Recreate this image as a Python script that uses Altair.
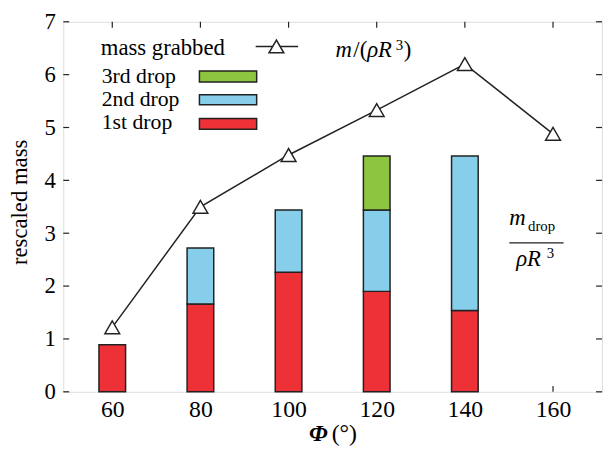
import altair as alt
import pandas as pd

# ---- data ----
phi_bars = [60, 80, 100, 120, 140]
drop1 = [0.89, 1.66, 2.26, 1.90, 1.54]
drop2 = [0.0, 1.06, 1.18, 1.54, 2.92]
drop3 = [0.0, 0.0, 0.0, 1.02, 0.0]
phi_line = [60, 80, 100, 120, 140, 160]
mass_grabbed = [1.22, 3.50, 4.48, 5.33, 6.20, 4.88]
x_ticks = [60, 80, 100, 120, 140, 160]
y_ticks = [0, 1, 2, 3, 4, 5, 6, 7]
drop_names = ["1st drop", "2nd drop", "3rd drop"]
drop_colors = ["#ee3037", "#87ceeb", "#8cc63f"]

# layout (page pixels)
PX0, PY0 = 64, 19          # plot origin on page
W, H = 546, 375
FONT = "'Liberation Serif', 'Times New Roman', Times, serif"
FS = 24
LFS = 22  # legend font size
TL = 6  # inward tick length
INK = "#222222"


def rx(ax):
    return ax - PX0


def ry(ay):
    return ay - PY0


rows = []
for i, p in enumerate(phi_bars):
    base = 0.0
    for k, vals in enumerate([drop1, drop2, drop3]):
        v = vals[i]
        if v > 0:
            rows.append({"phi": p, "drop": drop_names[k], "y0": base, "y1": base + v})
        base += v
bars_df = pd.DataFrame(rows)
line_df = pd.DataFrame({"phi": phi_line, "mass": mass_grabbed})
xt_df = pd.DataFrame({"t": x_ticks})
yt_df = pd.DataFrame({"t": y_ticks})
one = pd.DataFrame({"a": [0]})

xs = alt.Scale(domain=[50, 170], nice=False, zero=False)
ys = alt.Scale(domain=[0, 7], nice=False)

x_axis = alt.Axis(values=x_ticks, ticks=False, domain=False, grid=False, labelFont=FONT,
                  labelFontSize=FS, labelColor="black", labelPadding=6, title=None, format="d")
y_axis = alt.Axis(values=y_ticks, ticks=False, domain=False, grid=False, labelFont=FONT,
                  labelFontSize=23, labelColor="black", labelPadding=8, title=None, format="d")

base_ax = alt.Chart(xt_df).mark_rule(stroke=INK, strokeWidth=1.2).encode(
    x=alt.X("t:Q", scale=xs, axis=x_axis),
    y=alt.value(H), y2=alt.value(H - TL))
top_ticks = alt.Chart(xt_df).mark_rule(stroke=INK, strokeWidth=1.2).encode(
    x=alt.X("t:Q", scale=xs), y=alt.value(0), y2=alt.value(TL))
left_ticks = alt.Chart(yt_df).mark_rule(stroke=INK, strokeWidth=1.2).encode(
    y=alt.Y("t:Q", scale=ys, axis=y_axis), x=alt.value(0), x2=alt.value(TL))
right_ticks = alt.Chart(yt_df).mark_rule(stroke=INK, strokeWidth=1.2).encode(
    y=alt.Y("t:Q", scale=ys), x=alt.value(W), x2=alt.value(W - TL))

bars = alt.Chart(bars_df).mark_bar(size=27, stroke=INK, strokeWidth=1.5,
                                   orient="vertical").encode(
    x=alt.X("phi:Q", scale=xs),
    y=alt.Y("y0:Q", scale=ys),
    y2="y1:Q",
    color=alt.Color("drop:N", scale=alt.Scale(domain=drop_names, range=drop_colors), legend=None))

line = alt.Chart(line_df).mark_line(color=INK, strokeWidth=1.5).encode(
    x=alt.X("phi:Q", scale=xs), y=alt.Y("mass:Q", scale=ys))
pts = alt.Chart(line_df).mark_point(shape="triangle-up", size=225, filled=True, fill="white",
                                    stroke=INK, strokeWidth=1.5, opacity=1).encode(
    x=alt.X("phi:Q", scale=xs), y=alt.Y("mass:Q", scale=ys))


def txt(s, ax, ay, size=FS, style="normal", weight="normal", align="left", angle=0):
    return alt.Chart(one).mark_text(text=s, font=FONT, fontSize=size, fontStyle=style,
                                    fontWeight=weight, align=align, baseline="alphabetic",
                                    angle=angle, color="black").encode(
        x=alt.value(rx(ax)), y=alt.value(ry(ay)))


def rect(ax1, ax2, ay1, ay2, color):
    return alt.Chart(one).mark_rect(fill=color, stroke=INK, strokeWidth=1.5).encode(
        x=alt.value(rx(ax1)), x2=alt.value(rx(ax2)), y=alt.value(ry(ay1)), y2=alt.value(ry(ay2)))


def hline(ax1, ax2, ay, w=1.5):
    return alt.Chart(one).mark_rule(stroke=INK, strokeWidth=w).encode(
        x=alt.value(rx(ax1)), x2=alt.value(rx(ax2)), y=alt.value(ry(ay)))


legend = [
    txt("mass grabbed", 102, 53, size=LFS + 1),
    hline(259, 302, 44),
    alt.Chart(one).mark_point(shape="triangle-up", size=225, filled=True, fill="white",
                              stroke=INK, strokeWidth=1.5, opacity=1).encode(
        x=alt.value(rx(280)), y=alt.value(ry(44))),
    txt("3rd drop", 103, 81, size=LFS), rect(202, 260, 69, 80, drop_colors[2]),
    txt("2nd drop", 103, 104, size=LFS), rect(202, 260, 93, 103, drop_colors[1]),
    txt("1st drop", 103, 128, size=LFS), rect(202, 260, 117, 128, drop_colors[0]),
]

annot = [
    # m/(rho R^3)
    txt("m", 340, 55, size=23, style="italic"),
    txt("/(", 358, 55, size=23),
    txt("ρR", 372, 55, size=23, style="italic"),
    txt("3", 401, 48, size=15),
    txt(")", 409, 55, size=23),
    # m_drop / (rho R^3)
    txt("m", 516, 225, size=23, style="italic"),
    txt("drop", 535, 231, size=15),
    hline(516, 571, 243, w=1.2),
    txt("ρR", 523, 266, size=23, style="italic"),
    txt("3", 554, 258, size=15),
    # axis titles
    txt("rescaled mass", 27, 202, size=23, align="center", angle=270),
    txt("Φ", 313, 444, size=FS, style="italic", weight="bold"),
    txt("(°)", 336, 444, size=FS),
]

chart = alt.layer(base_ax, top_ticks, left_ticks, right_ticks, bars, line, pts,
                  *legend, *annot).properties(
    width=W, height=H,
    autosize=alt.AutoSizeParams(type="none"),
    padding={"left": PX0 - 8, "top": PY0 - 8, "right": 2, "bottom": 55},
).configure_view(stroke="black", strokeWidth=1.5).configure(background="white")

chart.save("out.html", embed_options={"renderer": "svg", "actions": False})
